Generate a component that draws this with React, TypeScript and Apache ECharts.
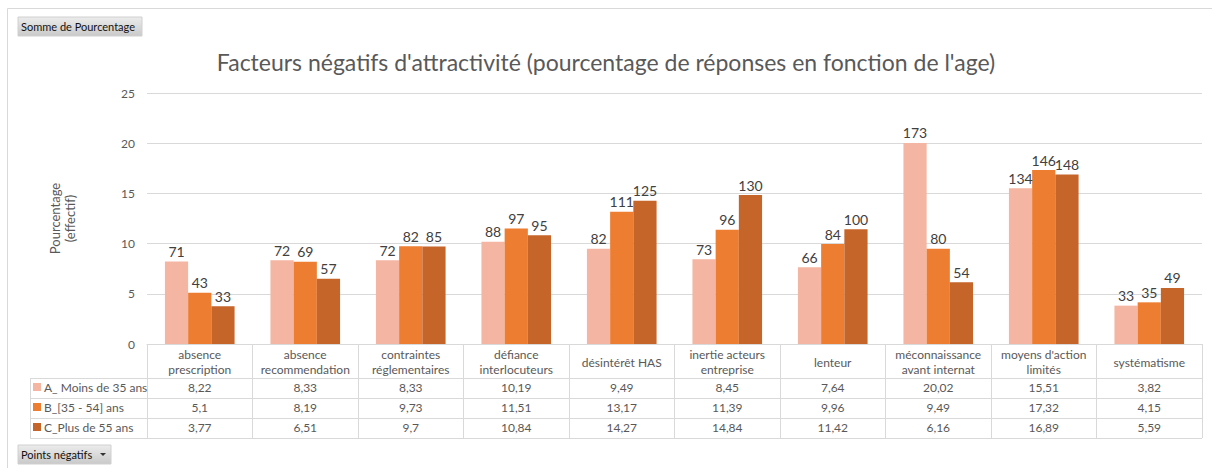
import React, { useEffect, useRef } from "react";
import * as echarts from "echarts";

const categories = [
  "absence\nprescription",
  "absence\nrecommendation",
  "contraintes\nréglementaires",
  "défiance\ninterlocuteurs",
  "désintérêt HAS",
  "inertie acteurs\nentreprise",
  "lenteur",
  "méconnaissance\navant internat",
  "moyens d'action\nlimités",
  "systématisme",
];
const seriesNames = ["A_ Moins de 35 ans", "B_[35 - 54] ans", "C_Plus de 55 ans"];
const valuesA = [8.22, 8.33, 8.33, 10.19, 9.49, 8.45, 7.64, 20.02, 15.51, 3.82];
const valuesB = [5.1, 8.19, 9.73, 11.51, 13.17, 11.39, 9.96, 9.49, 17.32, 4.15];
const valuesC = [3.77, 6.51, 9.7, 10.84, 14.27, 14.84, 11.42, 6.16, 16.89, 5.59];
const countsA = [71, 72, 72, 88, 82, 73, 66, 173, 134, 33];
const countsB = [43, 69, 82, 97, 111, 96, 84, 80, 146, 35];
const countsC = [33, 57, 85, 95, 125, 130, 100, 54, 148, 49];
const colors = ["#F4B6A2", "#ED7D31", "#C5652A"];

const FONT = "Lato, 'Open Sans', sans-serif";
const TXT = "#595959";
const LINE = "#d9d9d9";

const GRID_LEFT = 147;
const GRID_RIGHT_X = 1202;
const GRID_TOP = 93;
const AXIS_Y = 344;
const TABLE_LEFT = 30;
const HEADER_H = 34;
const ROW_H = 20;

const fmt = (v: number) => String(v).replace(".", ",");

export default function App() {
  const ref = useRef<HTMLDivElement>(null);
  useEffect(() => {
    if (!ref.current) return;
    const chart = echarts.init(ref.current, null, { renderer: "svg" });
    const allValues = [valuesA, valuesB, valuesC];
    const allCounts = [countsA, countsB, countsC];

    const rowTops = [0, 1, 2, 3].map((i) => AXIS_Y + HEADER_H + i * ROW_H);

    const btnFill = () =>
      new echarts.graphic.LinearGradient(0, 0, 0, 1, [
        { offset: 0, color: "#ececec" },
        { offset: 1, color: "#c9c9c9" },
      ]);

    const graphic: any[] = [
      {
        type: "rect",
        shape: { x: 7.5, y: 8.5, width: 1215, height: 470 },
        style: { fill: "none", stroke: LINE, lineWidth: 1 },
        silent: true,
      },
      ...rowTops.map((y) => ({
        type: "line",
        shape: { x1: TABLE_LEFT, y1: y + 0.5, x2: GRID_RIGHT_X, y2: y + 0.5 },
        style: { stroke: LINE, lineWidth: 1 },
        silent: true,
      })),
      {
        type: "line",
        shape: { x1: TABLE_LEFT + 0.5, y1: rowTops[0], x2: TABLE_LEFT + 0.5, y2: rowTops[3] },
        style: { stroke: LINE, lineWidth: 1 },
        silent: true,
      },
      {
        type: "rect",
        shape: { x: 18, y: 17, width: 124, height: 19 },
        style: { fill: btnFill(), stroke: "#d0d0d0" },
        silent: true,
      },
      {
        type: "text",
        x: 21,
        y: 26.5,
        style: { text: "Somme de Pourcentage", fontSize: 11, fill: "#111", fontFamily: FONT, verticalAlign: "middle" },
        silent: true,
      },
      {
        type: "rect",
        shape: { x: 18, y: 445, width: 93, height: 19 },
        style: { fill: btnFill(), stroke: "#d0d0d0" },
        silent: true,
      },
      {
        type: "text",
        x: 21,
        y: 454.5,
        style: { text: "Points négatifs", fontSize: 11, fill: "#111", fontFamily: FONT, verticalAlign: "middle" },
        silent: true,
      },
      {
        type: "polygon",
        shape: { points: [[100, 453], [106, 453], [103, 456]] },
        style: { fill: "#333" },
        silent: true,
      },
    ];

    const legends = seriesNames.map((n, i) => ({
      data: [n],
      orient: "horizontal",
      left: 33,
      top: rowTops[i] + 3,
      icon: "rect",
      itemWidth: 8,
      itemHeight: 8,
      itemGap: 4,
      padding: 0,
      selectedMode: false,
      textStyle: { fontSize: 12, color: TXT, fontFamily: FONT, padding: [0, 0, 0, -2] },
    }));

    chart.setOption({
      animation: false,
      textStyle: { fontFamily: FONT },
      title: {
        text: "Facteurs négatifs d'attractivité (pourcentage de réponses en fonction de l'age)",
        left: "center",
        top: 45,
        textStyle: { fontSize: 23, fontWeight: "normal", color: TXT, fontFamily: FONT },
      },
      legend: legends,
      grid: {
        left: GRID_LEFT,
        right: 1212 - GRID_RIGHT_X,
        top: GRID_TOP,
        bottom: 468 - AXIS_Y,
        containLabel: false,
      },
      xAxis: {
        type: "category",
        data: categories,
        axisLine: { show: true, lineStyle: { color: LINE } },
        axisTick: {
          show: true,
          interval: 0,
          length: HEADER_H + 3 * ROW_H,
          lineStyle: { color: LINE },
        },
        axisLabel: {
          interval: 0,
          margin: 3,
          hideOverlap: false,
          color: TXT,
          fontFamily: FONT,
          formatter: (value: string, idx: number) => {
            const lines = value.split("\n");
            const head =
              lines.length === 1
                ? `{s|${lines[0]}}`
                : lines.map((l) => `{n|${l}}`).join("\n");
            const vals = allValues.map((arr) => `{v|${fmt(arr[idx])}}`).join("\n");
            return head + "\n" + vals;
          },
          rich: {
            n: { fontSize: 12, lineHeight: 15, color: TXT, fontFamily: FONT },
            s: { fontSize: 12, lineHeight: 30, color: TXT, fontFamily: FONT },
            v: { fontSize: 12, lineHeight: 20, color: TXT, fontFamily: FONT },
          },
        },
      },
      yAxis: {
        type: "value",
        min: 0,
        max: 25,
        interval: 5,
        name: "Pourcentage\n(effectif)",
        nameLocation: "middle",
        nameGap: 70,
        nameRotate: 90,
        nameTextStyle: { fontSize: 13, color: TXT, fontFamily: FONT, lineHeight: 15 },
        axisLine: { show: false },
        axisTick: { show: false },
        axisLabel: { fontSize: 12, color: TXT, fontFamily: FONT, margin: 12 },
        splitLine: { lineStyle: { color: LINE } },
      },
      series: seriesNames.map((name, si) => ({
        name,
        type: "bar",
        data: allValues[si],
        barGap: "0%",
        barCategoryGap: "34%",
        itemStyle: { color: colors[si] },
        label: {
          show: true,
          position: "top",
          distance: 3,
          fontSize: 14,
          color: "#404040",
          fontFamily: FONT,
          formatter: (p: any) => String(allCounts[si][p.dataIndex]),
        },
      })),
      color: colors,
      graphic,
    });
    return () => chart.dispose();
  }, []);
  return (
    <div
      ref={ref}
      style={{ position: "absolute", left: 0, top: 0, width: 1212, height: 468, background: "#fff" }}
    />
  );
}
